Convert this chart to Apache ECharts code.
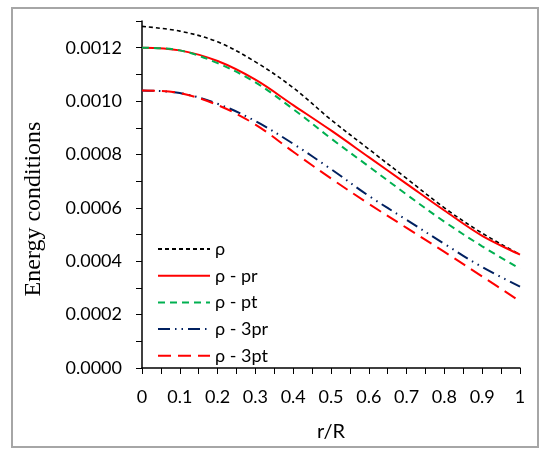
<!DOCTYPE html>
<html>
<head>
<meta charset="utf-8">
<script src="https://cdn.jsdelivr.net/npm/echarts@6/dist/echarts.min.js"></script>
<style>
  html, body { margin: 0; padding: 0; background: #fff; }
  #chart { width: 555px; height: 465px; }
</style>
</head>
<body>
<div id="chart"></div>
<script>
  // r/R positions
  var rR = [0, 0.1, 0.2, 0.3, 0.4, 0.5, 0.6, 0.7, 0.8, 0.9, 1];

  // values
  var rho     = [0.00128, 0.001262, 0.001222, 0.001147, 0.00105, 0.00093, 0.00082, 0.00071, 0.0006, 0.000505, 0.000425];
  var rhoPr   = [0.0012, 0.00119, 0.00115, 0.00108, 0.000985, 0.00089, 0.00079, 0.00069, 0.00059, 0.000495, 0.000425];
  var rhoPt   = [0.0012, 0.00119, 0.001142, 0.00107, 0.00097, 0.00086, 0.000755, 0.00065, 0.000548, 0.000456, 0.000372];
  var rho3pr  = [0.00104, 0.00103, 0.00099, 0.000925, 0.00084, 0.000745, 0.000645, 0.000555, 0.000465, 0.000378, 0.000305];
  var rho3pt  = [0.00104, 0.00103, 0.000985, 0.000912, 0.00081, 0.00071, 0.000615, 0.000525, 0.000435, 0.000343, 0.00025];

  var names = ['ρ', 'ρ - pr', 'ρ - pt', 'ρ - 3pr', 'ρ - 3pt'];

  function pairs(ys) {
    return rR.map(function (x, i) { return [x, ys[i]]; });
  }

  function mkSeries(name, ys, color, type, width) {
    return {
      name: name,
      type: 'line',
      data: pairs(ys),
      smooth: 0.35,
      symbol: 'none',
      lineStyle: { color: color, type: type, width: width },
      itemStyle: { color: color },
      z: 2
    };
  }

  var chart = echarts.init(document.getElementById('chart'));

  var option = {
    animation: false,
    backgroundColor: '#fff',
    graphic: [{
      type: 'rect',
      shape: { x: 12, y: 8, width: 526, height: 439 },
      style: { fill: 'none', stroke: '#a6a6a6', lineWidth: 2 },
      silent: true
    }, {
      // y axis title, sits a bit below the plot centre like the original
      type: 'text',
      x: 34,
      y: 209,
      rotation: Math.PI / 2,
      style: {
        text: 'Energy conditions',
        font: '24px "Liberation Serif"',
        fill: '#000',
        align: 'center',
        verticalAlign: 'middle'
      },
      silent: true
    }],
    grid: { left: 142, right: 35, top: 21, bottom: 97 },
    legend: {
      orient: 'vertical',
      left: 152,
      top: 235,
      itemWidth: 52,
      itemHeight: 14,
      itemGap: 8.7,
      data: names,
      itemStyle: { opacity: 0 },
      textStyle: { fontFamily: 'Lato', fontSize: 18, lineHeight: 18, color: '#000' }
    },
    xAxis: {
      type: 'value',
      min: 0,
      max: 1,
      interval: 0.1,
      name: 'r/R',
      nameLocation: 'middle',
      nameGap: 54,
      nameTextStyle: { fontFamily: 'Lato', fontSize: 20, color: '#000' },
      axisLine: { lineStyle: { color: '#000', width: 1.5 } },
      axisTick: { show: true, inside: false, length: 6, lineStyle: { color: '#000' } },
      minorTick: { show: true, splitNumber: 2, length: 6, lineStyle: { color: '#000' } },
      splitLine: { show: false },
      axisLabel: { fontFamily: 'Lato', fontSize: 18, color: '#000', margin: 20 }
    },
    yAxis: {
      type: 'value',
      min: 0,
      max: 0.0013,
      interval: 0.0001,
      axisLine: { show: true, lineStyle: { color: '#000', width: 1.5 } },
      axisTick: { show: true, inside: false, length: 6, lineStyle: { color: '#000' } },
      splitLine: { show: false },
      axisLabel: {
        fontFamily: 'Lato', fontSize: 18, color: '#000', margin: 20,
        formatter: function (v) {
          var k = Math.round(v * 10000);
          return k % 2 === 0 ? (k / 10000).toFixed(4) : '';
        }
      }
    },
    series: [
      mkSeries(names[0], rho, '#000000', [4, 3], 1.6),
      mkSeries(names[1], rhoPr, '#ff0000', 'solid', 2),
      mkSeries(names[2], rhoPt, '#00b050', [7, 5], 2),
      mkSeries(names[3], rho3pr, '#002060', [12, 5, 1.5, 5, 1.5, 5], 2),
      mkSeries(names[4], rho3pt, '#ff0000', [13, 7], 2)
    ]
  };

  chart.setOption(option);
</script>
</body>
</html>
